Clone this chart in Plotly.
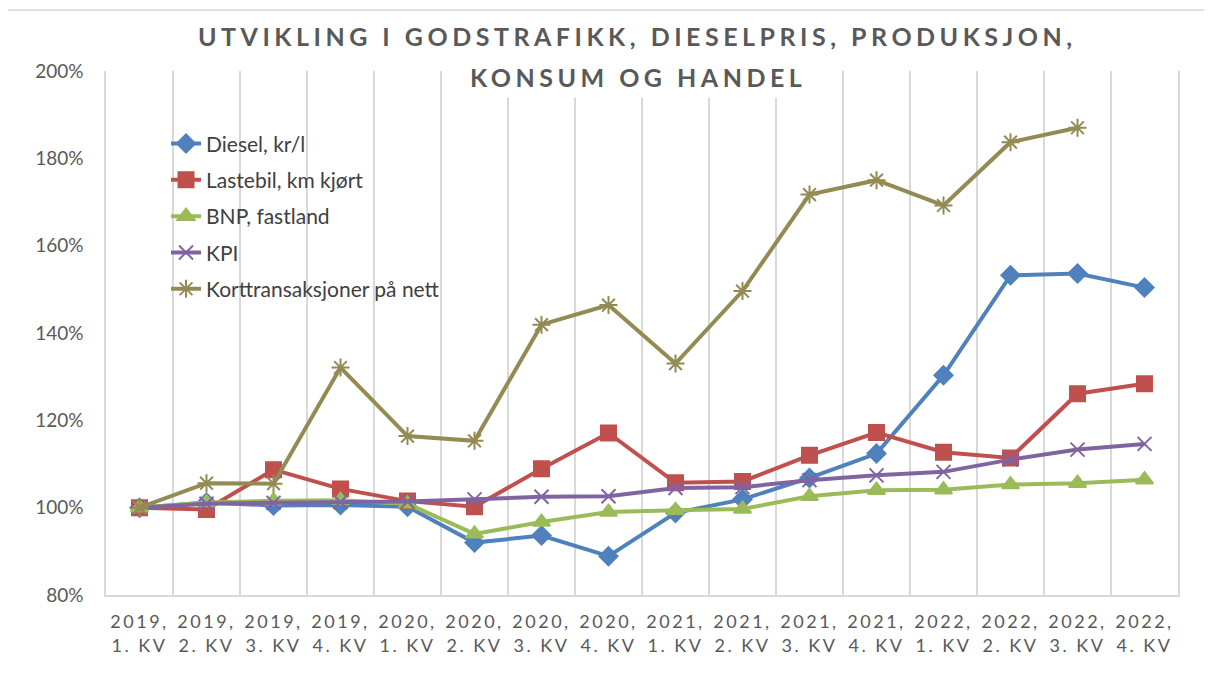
import plotly.graph_objects as go

kvartal = ["2019, 1. KV", "2019, 2. KV", "2019, 3. KV", "2019, 4. KV",
           "2020, 1. KV", "2020, 2. KV", "2020, 3. KV", "2020, 4. KV",
           "2021, 1. KV", "2021, 2. KV", "2021, 3. KV", "2021, 4. KV",
           "2022, 1. KV", "2022, 2. KV", "2022, 3. KV", "2022, 4. KV"]

diesel = [100, 101.2, 100.5, 100.6, 100.2, 92.0, 93.6, 88.9,
          98.8, 101.9, 106.8, 112.4, 130.3, 153.2, 153.6, 150.4]
lastebil = [100, 99.6, 108.7, 104.3, 101.5, 100.2, 108.9, 117.1,
            105.7, 106.0, 112.0, 117.2, 112.7, 111.4, 126.1, 128.4]
bnp = [100, 101.2, 101.6, 101.7, 100.9, 94.0, 96.7, 99.0,
       99.4, 99.7, 102.6, 104.0, 104.1, 105.3, 105.6, 106.4]
kpi = [100, 100.9, 101.1, 101.3, 101.4, 101.9, 102.5, 102.6,
       104.5, 104.7, 106.3, 107.4, 108.2, 111.0, 113.3, 114.6]
kort = [100, 105.6, 105.5, 132.1, 116.4, 115.3, 141.9, 146.4,
        133.0, 149.6, 171.7, 175.0, 169.2, 183.7, 187.0, None]

serier = [
    ("Diesel, kr/l", diesel, "#4F81BD", "diamond", 14),
    ("Lastebil, km kjørt", lastebil, "#C0504D", "square", 15),
    ("BNP, fastland", bnp, "#9BBB59", "triangle-up", 15),
    ("KPI", kpi, "#8064A2", "x-thin-open", 14),
    ("Korttransaksjoner på nett", kort, "#948A54", "asterisk-open", 15),
]

fig = go.Figure()
for i, (navn, verdier, farge, symbol, size) in enumerate(serier):
    fig.add_trace(go.Scatter(
        x=kvartal, y=verdier, name=navn, mode="lines+markers",
        legendgroup=str(i),
        line=dict(color=farge, width=4),
        marker=dict(symbol=symbol, size=size, color=farge,
                    line=dict(color=farge, width=2)),
    ))

ticktext = []
for k in kvartal:
    aar, kv = k.split(", ")
    ticktext.append('<span style="letter-spacing:2.5px">' + aar + ",</span><br>"
                    + '<span style="letter-spacing:2.5px">' + kv + "</span>")

tittel = ["UTVIKLING I GODSTRAFIKK, DIESELPRIS, PRODUKSJON,", "KONSUM OG HANDEL"]

fig.update_layout(
    width=1204,
    height=665,
    template="plotly_white",
    font=dict(family="Lato", color="#595959"),
    margin=dict(l=98, r=34, t=63, b=78),
    showlegend=True,
    legend=dict(x=0.056, y=0.9, xanchor="left", yanchor="top",
                font=dict(size=21, color="#404040"),
                tracegroupgap=6, bgcolor="rgba(0,0,0,0)"),
    plot_bgcolor="white",
    paper_bgcolor="white",
)

# tittel i to linjer, med hvit bakgrunn som dekker rutenettet
fig.add_annotation(text='<b><span style="letter-spacing:4.5px">' + tittel[0] + "</span></b>",
                   xref="paper", yref="paper", x=0.496, y=1.067,
                   xanchor="center", yanchor="middle", showarrow=False,
                   font=dict(size=25, color="#595959", family="Lato"))
fig.add_annotation(text='<b><span style="letter-spacing:4.5px">' + tittel[1] + "</span></b>",
                   xref="paper", yref="paper", x=0.496, y=0.9885,
                   xanchor="center", yanchor="middle", showarrow=False,
                   bgcolor="white", borderpad=5,
                   font=dict(size=25, color="#595959", family="Lato"))

fig.update_xaxes(
    type="category", tickvals=kvartal, ticktext=ticktext, tickangle=0,
    tickson="boundaries", range=[-0.5, 15.5],
    showgrid=True, gridcolor="#D9D9D9", gridwidth=1.5,
    showline=True, linecolor="#D9D9D9", linewidth=1.5,
    ticks="", ticklabelstandoff=10, tickfont=dict(size=18, color="#595959"),
)
fig.update_yaxes(
    range=[80, 200], dtick=20, ticksuffix="%",
    showgrid=False, zeroline=False,
    showline=True, mirror=True, linecolor="#D9D9D9", linewidth=1.5,
    ticks="", ticklabelstandoff=17, tickfont=dict(size=19, color="#595959"),
)

# ramme rundt diagramområdet
fig.add_shape(type="rect", xref="paper", yref="paper",
              x0=-0.0924, x1=1.05, y0=-0.2, y1=1.1164,
              line=dict(color="#D9D9D9", width=1.5), layer="below")

fig.write_html("out.html")
